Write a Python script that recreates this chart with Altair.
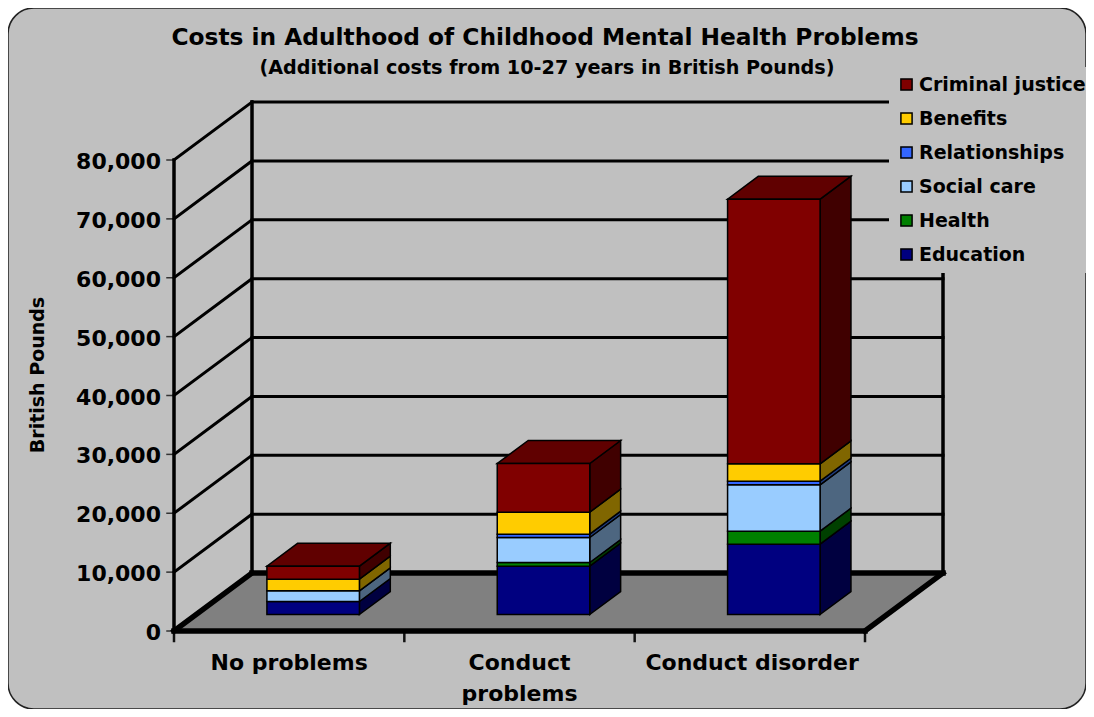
import altair as alt
import pandas as pd

categories = ["No problems", "Conduct problems", "Conduct disorder"]
category_labels = ["No problems", "Conduct\nproblems", "Conduct disorder"]
education = [2210, 8210, 11950]
health = [0, 620, 2200]
social_care = [1810, 4250, 7870]
relationships = [0, 560, 620]
benefits = [1980, 3740, 2950]
criminal_justice = [2210, 8270, 44950]
series_names = ["Education", "Health", "Social care", "Relationships", "Benefits", "Criminal justice"]
series_values = [education, health, social_care, relationships, benefits, criminal_justice]
front_colors = ["#000080", "#008000", "#99CCFF", "#3366FF", "#FFCC00", "#800000"]
side_colors = ["#000040", "#004000", "#4D6680", "#1F3D80", "#806600", "#400000"]
top_colors = ["#000060", "#006000", "#7399BF", "#264DBF", "#BF9900", "#600000"]
y_ticks = [0, 10000, 20000, 30000, 40000, 50000, 60000, 70000, 80000]
x_ticks = [0, 1, 2, 3]

W, H = 1078, 701
FONT = "DejaVu Sans"
PX_X = 691 / 3            # pixels per category
PX_Y = 471 / 80000        # pixels per pound
X_DOM = [(8 - 174) / PX_X, (8 + W - 174) / PX_X]
Y_DOM = [(631 - 8 - H) / PX_Y, (631 - 8) / PX_Y]
DEPTH_X = 78 / PX_X
DEPTH_Y = 58 / PX_Y
BAR_W = 92.5 / PX_X
NEAR, FAR = 0.276, 0.672

xs = alt.Scale(domain=X_DOM, nice=False, zero=False)
ys = alt.Scale(domain=Y_DOM, nice=False, zero=False)
X = lambda f: alt.X(f, type="quantitative", scale=xs, axis=None)
Y = lambda f: alt.Y(f, type="quantitative", scale=ys, axis=None)

rects, sides, tops = [], [], []
for i, cat in enumerate(categories):
    left = i + (1 - BAR_W) / 2 + NEAR * DEPTH_X + 0.0107
    base = NEAR * DEPTH_Y + 0.5 / PX_Y
    run = 0
    for k, name in enumerate(series_names):
        v = series_values[k][i]
        if v == 0:
            continue
        lo, hi = base + run, base + run + v
        run += v
        rects.append(dict(series=name, x=left, x2=left + BAR_W, y=lo, y2=hi))
        d = f"{i}-{k}"
        dx, dy = (FAR - NEAR) * DEPTH_X, (FAR - NEAR) * DEPTH_Y
        sides.append(dict(face=d, c=side_colors[k], x=left + BAR_W, y=lo, y2=hi))
        sides.append(dict(face=d, c=side_colors[k], x=left + BAR_W + dx, y=lo + dy, y2=hi + dy))
    last = max(k for k in range(6) if series_values[k][i] > 0)
    tops.append(dict(face=str(i), c=top_colors[last], y=hi, x=left, x2=left + BAR_W))
    tops.append(dict(face=str(i), c=top_colors[last], y=hi + dy, x=left + dx, x2=left + BAR_W + dx))

lines = []
def seg(x, y, x2, y2, w, c="#000000"):
    lines.append(dict(x=x, y=y, x2=x2, y2=y2, w=w, c=c))

for t in y_ticks[1:]:
    seg(0, t, DEPTH_X, t + DEPTH_Y, 3)
    seg(DEPTH_X, t + DEPTH_Y, 3 + DEPTH_X, t + DEPTH_Y, 3)
for t in y_ticks:
    seg(-7 / PX_X, t, 0, t, 1.5, "#333333")
for t in x_ticks:
    seg(t, 0, t, -10 / PX_Y, 2.5, "#111111")
seg(0, 0, 0, 80000, 3.5)
seg(DEPTH_X, DEPTH_Y, DEPTH_X, 80000 + DEPTH_Y, 3.5)
seg(3 + DEPTH_X, DEPTH_Y, 3 + DEPTH_X, 50000 + DEPTH_Y + 8 / PX_Y, 3.5)

floor_lines = []
for a in [(0, 0, 3, 0), (0, 0, DEPTH_X, DEPTH_Y), (3, 0, 3 + DEPTH_X, DEPTH_Y), (DEPTH_X, DEPTH_Y, 3 + DEPTH_X, DEPTH_Y)]:
    floor_lines.append(dict(x=a[0], y=a[1], x2=a[2], y2=a[3]))

floor = pd.DataFrame([
    dict(y=0, x=0, x2=3),
    dict(y=DEPTH_Y, x=DEPTH_X, x2=3 + DEPTH_X),
])

layers = []
layers.append(alt.Chart(floor).mark_area(orient="horizontal", color="#808080").encode(x=X("x"), x2="x2:Q", y=Y("y")))
layers.append(alt.Chart(pd.DataFrame(lines)).mark_rule(strokeCap="square").encode(
    x=X("x"), x2="x2:Q", y=Y("y"), y2="y2:Q",
    strokeWidth=alt.StrokeWidth("w:Q", scale=None),
    color=alt.Color("c:N", scale=None)))
layers.append(alt.Chart(pd.DataFrame(floor_lines)).mark_rule(strokeWidth=5.5, color="#000000", strokeCap="square").encode(
    x=X("x"), x2="x2:Q", y=Y("y"), y2="y2:Q"))
layers.append(alt.Chart(pd.DataFrame(sides)).mark_area(stroke="#000000", strokeWidth=1.5).encode(
    x=X("x"), y=Y("y"), y2="y2:Q", detail="face:N", fill=alt.Fill("c:N", scale=None)))
layers.append(alt.Chart(pd.DataFrame(tops)).mark_area(orient="horizontal", stroke="#000000", strokeWidth=1.5).encode(
    y=Y("y"), x=X("x"), x2="x2:Q", detail="face:N", fill=alt.Fill("c:N", scale=None)))
layers.append(alt.Chart(pd.DataFrame(rects)).mark_rect(stroke="#000000", strokeWidth=1.5).encode(
    x=X("x"), x2="x2:Q", y=Y("y"), y2="y2:Q",
    fill=alt.Fill("series:N", scale=alt.Scale(domain=series_names[::-1], range=front_colors[::-1]),
                  sort=series_names[::-1],
                  legend=alt.Legend(orient="none", legendX=881, legendY=59, title=None,
                                    fillColor="#C0C0C0", padding=8,
                                    symbolType="square", symbolSize=125, symbolStrokeColor="#000000",
                                    symbolStrokeWidth=1.5, labelFont=FONT, labelFontWeight="bold",
                                    labelFontSize=19, labelColor="#000000", labelOffset=3,
                                    rowPadding=14, labelLimit=200))))

# axis labels
ylab = pd.DataFrame(dict(v=y_ticks, t=[f"{v:,}" for v in y_ticks], x=[-13 / PX_X] * len(y_ticks)))
layers.append(alt.Chart(ylab).mark_text(font=FONT, fontWeight="bold", fontSize=22, align="right", baseline="middle", color="#000000", dy=2).encode(
    x=X("x"), y=Y("v"), text="t:N"))
xlab = pd.DataFrame(dict(x=[0.5, 1.5, 2.51], v=[-31 / PX_Y] * 3, t=category_labels))
layers.append(alt.Chart(xlab).mark_text(font=FONT, fontWeight="bold", fontSize=22, align="center", baseline="middle",
                                        lineBreak="\n", lineHeight=31, color="#000000", dy=1).encode(
    x=X("x"), y=Y("v"), text="t:N"))

def label(txt, x, y, size, angle=0):
    return alt.Chart(pd.DataFrame(dict(t=[txt]))).mark_text(
        font=FONT, fontWeight="bold", fontSize=size, align="center", baseline="middle", color="#000000", angle=angle
    ).encode(x=alt.value(x), y=alt.value(y), text="t:N")

layers.append(label("Costs in Adulthood of Childhood Mental Health Problems", 537, 30, 23.3))
layers.append(label("(Additional costs from 10-27 years in British Pounds)", 539, 60, 19.2))
layers.append(label("British Pounds", 30, 367, 19, 270))

chart = alt.layer(*layers).resolve_scale(color="independent", fill="independent").properties(
    width=W, height=H, padding=0, autosize=alt.AutoSizeParams(type="none"),
).configure_view(fill="#C0C0C0", stroke="#222222", strokeWidth=1.5, cornerRadius=26)

chart.save("out.html", embed_options={"renderer": "svg", "actions": False})
